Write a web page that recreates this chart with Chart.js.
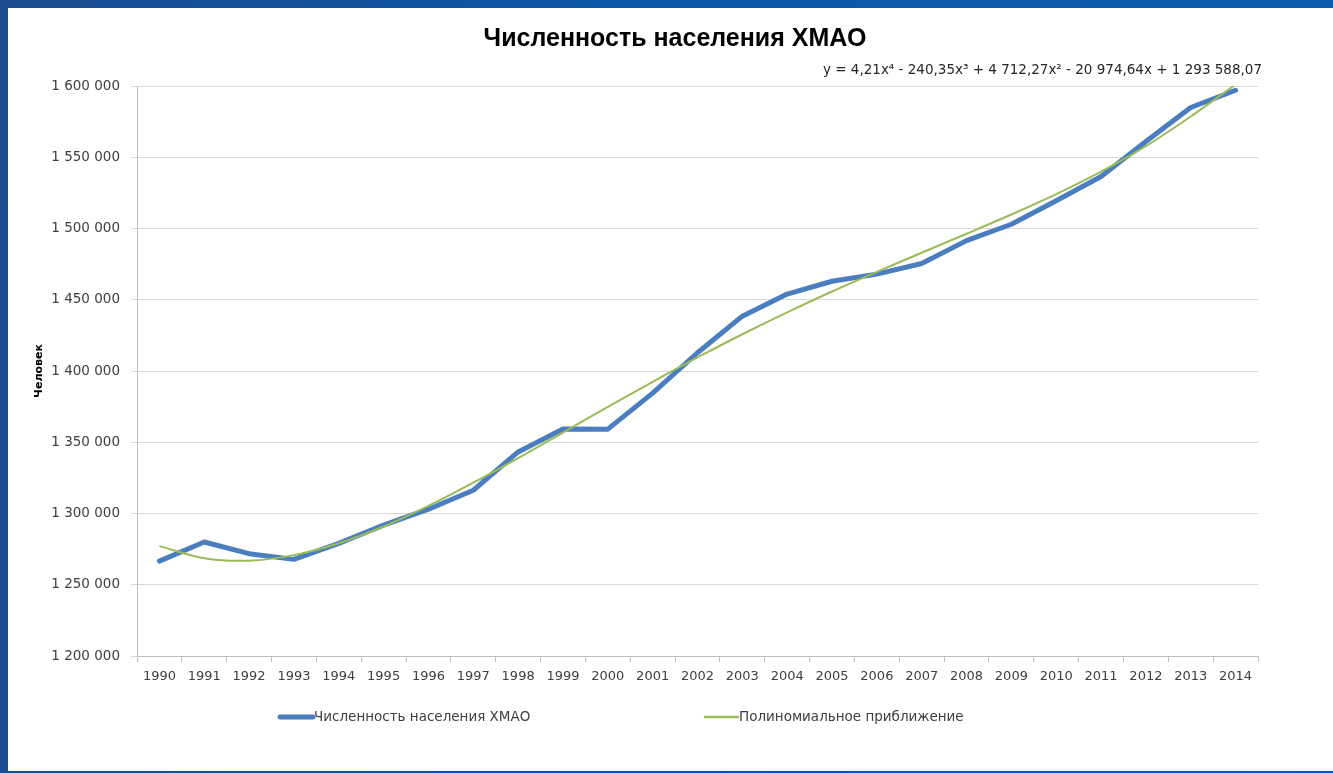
<!DOCTYPE html>
<html lang="ru">
<head>
<meta charset="utf-8">
<title>Численность населения ХМАО</title>
<script src="https://cdn.jsdelivr.net/npm/chart.js@4/dist/chart.umd.min.js"></script>
<style>
  html, body { margin: 0; padding: 0; }
  body {
    width: 1333px; height: 773px; overflow: hidden;
    background: linear-gradient(100deg, #1a4b8e 0%, #0b56a6 40%, #0a5cb0 100%);
  }
  #wrap { position: absolute; left: 0; top: 0; width: 1333px; height: 773px; }
</style>
</head>
<body>
<div id="wrap"><canvas id="chart" width="1333" height="773"></canvas></div>
<script>
// --- data ---
const years = ['1990', '1991', '1992', '1993', '1994', '1995', '1996', '1997', '1998', '1999',
  '2000', '2001', '2002', '2003', '2004', '2005', '2006', '2007', '2008', '2009',
  '2010', '2011', '2012', '2013', '2014'];

const population = [1266600, 1280000, 1271800, 1267800, 1279000, 1291800, 1303000, 1316300, 1343200, 1359300,
  1359200, 1384500, 1412800, 1438500, 1454000, 1463000, 1468000, 1475400, 1491500, 1503000,
  1519500, 1536500, 1561000, 1584900, 1597000];

const trend = [1277100, 1268600, 1266900, 1270800, 1279100, 1290900, 1305300, 1321600, 1338900, 1356800,
  1374800, 1392400, 1409500, 1425800, 1441200, 1455800, 1469600, 1483000, 1496300, 1509800,
  1524100, 1539900, 1557800, 1578600, 1601000];

const yTicks = [1200000, 1250000, 1300000, 1350000, 1400000, 1450000, 1500000, 1550000, 1600000];

const seriesNames = ['Численность населения ХМАО', 'Полиномиальное приближение'];
const seriesColors = ['#4a7ebf', '#9bbb59'];
const chartTitle = 'Численность населения ХМАО';
const equation = 'y = 4,21x⁴ - 240,35x³ + 4 712,27x² - 20 974,64x + 1 293 588,07';
const yAxisTitle = 'Человек';

const fmt = v => String(v).replace(/\B(?=(\d{3})+(?!\d))/g, ' ');

// --- cadre, titre, équation, légende ---
const decor = {
  id: 'decor',
  beforeDraw(chart) {
    const ctx = chart.ctx;
    ctx.save();
    ctx.fillStyle = '#ffffff';
    ctx.fillRect(8, 8, 1325, 763);
    ctx.restore();
  },
  afterDraw(chart) {
    const ctx = chart.ctx;
    ctx.save();
    ctx.textBaseline = 'middle';

    // titre
    ctx.fillStyle = '#000';
    ctx.textAlign = 'center';
    ctx.font = 'bold 25px "Liberation Sans", sans-serif';
    ctx.fillText(chartTitle, 675, 39);

    // équation de la tendance
    ctx.fillStyle = '#262626';
    ctx.textAlign = 'right';
    ctx.font = '13.5px "DejaVu Sans", sans-serif';
    ctx.fillText(equation, 1262, 70);

    // légende
    ctx.textAlign = 'left';
    ctx.font = '13.5px "DejaVu Sans", sans-serif';
    const items = [
      { x: 280, width: 5 },
      { x: 705, width: 2.5 }
    ];
    items.forEach((it, i) => {
      ctx.strokeStyle = seriesColors[i];
      ctx.lineWidth = it.width;
      ctx.lineCap = 'round';
      ctx.beginPath();
      ctx.moveTo(it.x, 717);
      ctx.lineTo(it.x + 33, 717);
      ctx.stroke();
      ctx.fillStyle = '#404040';
      ctx.fillText(seriesNames[i], it.x + 34, 717);
    });
    ctx.restore();
  }
};

new Chart(document.getElementById('chart'), {
  type: 'line',
  data: {
    labels: years,
    datasets: [
      {
        label: seriesNames[0],
        data: population,
        borderColor: seriesColors[0],
        borderWidth: 5,
        borderJoinStyle: 'round',
        borderCapStyle: 'round',
        pointRadius: 0,
        tension: 0,
        order: 2
      },
      {
        label: seriesNames[1],
        data: trend,
        borderColor: seriesColors[1],
        borderWidth: 2,
        pointRadius: 0,
        tension: 0.3,
        order: 1
      }
    ]
  },
  options: {
    responsive: false,
    animation: false,
    layout: { padding: { top: 86, left: 0, right: 75, bottom: 77 } },
    plugins: {
      legend: { display: false },
      title: { display: false },
      tooltip: { enabled: false }
    },
    scales: {
      x: {
        offset: true,
        grid: { offset: true, drawOnChartArea: false, drawTicks: true, tickLength: 6, color: '#bfbfbf' },
        border: { color: '#bfbfbf' },
        ticks: {
          color: '#404040',
          font: { family: 'DejaVu Sans', size: 13 },
          padding: 7,
          maxRotation: 0,
          autoSkip: false
        },
        afterFit(s) { s.height = 40; }
      },
      y: {
        min: 1200000,
        max: 1600000,
        afterBuildTicks(s) { s.ticks = yTicks.map(v => ({ value: v })); },
        grid: { color: '#d9d9d9', tickLength: 6 },
        border: { color: '#bfbfbf' },
        ticks: {
          color: '#404040',
          font: { family: 'DejaVu Sans', size: 13.5 },
          padding: 11,
          callback: v => fmt(v)
        },
        title: {
          display: true,
          text: yAxisTitle,
          color: '#000',
          font: { family: 'DejaVu Sans', size: 11, weight: 'bold' },
          padding: { top: 33, bottom: 0 }
        },
        afterFit(s) { s.width = 137; }
      }
    }
  },
  plugins: [decor]
});
</script>
</body>
</html>
